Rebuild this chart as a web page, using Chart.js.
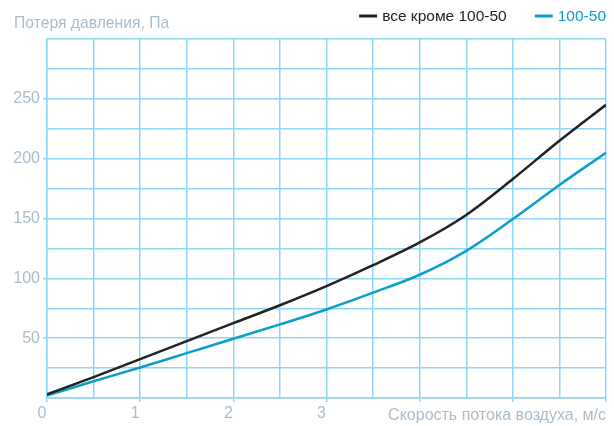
<!DOCTYPE html>
<html>
<head>
<meta charset="utf-8">
<script src="https://cdn.jsdelivr.net/npm/chart.js@4/dist/chart.umd.min.js"></script>
<style>
  html, body { margin: 0; padding: 0; background: #fff; }
  #wrap { width: 614px; height: 426px; }
</style>
</head>
<body>
<div id="wrap"><canvas id="chart"></canvas></div>
<script>
// скорость, м/с
const speeds = [0, 0.5, 1, 1.5, 2, 2.5, 3, 3.5, 4, 4.5, 5, 5.5, 6];
// потеря давления, Па
const allExcept = [3, 17.5, 32.5, 47.5, 62.5, 77.5, 93.5, 111, 130, 153, 183, 215, 245];
const model10050 = [2, 14, 25.5, 37.5, 49.5, 61.5, 74, 88, 103, 123, 149.5, 178, 205];
const seriesNames = ["все кроме 100-50", "100-50"];
const xTickLabels = { 0: "0", 1: "1", 2: "2", 3: "3" };
const yTickLabels = [50, 100, 150, 200, 250];

const gridColor = "#8fd5f6";
const textColor = "#a9bccb";
const font = "'Liberation Sans', Arial, sans-serif";

// titles and legend drawn by hand (horizontal y title, legend in text colour)
const extras = {
  id: "extras",
  afterDraw(chart) {
    const ctx = chart.ctx;
    const area = chart.chartArea;
    ctx.save();
    ctx.textBaseline = "alphabetic";
    ctx.fillStyle = textColor;
    ctx.textAlign = "left";
    ctx.font = "15.7px " + font;
    ctx.fillText("Потеря давления, Па", 14, 28);
    ctx.textAlign = "right";
    ctx.font = "16px " + font;
    ctx.fillText("Скорость потока воздуха, м/с", area.right, 420);

    // legend, right aligned
    ctx.font = "15.5px " + font;
    let x = area.right;
    const ds = chart.data.datasets;
    for (let i = ds.length - 1; i >= 0; i--) {
      const w = ctx.measureText(ds[i].label).width;
      ctx.fillStyle = ds[i].borderColor;
      ctx.textAlign = "left";
      ctx.fillText(ds[i].label, x - w, 21);
      ctx.fillRect(x - w - 23, 14.5, 18, 3);
      x = x - w - 23 - 28;
    }
    ctx.restore();
  }
};

const ctx = document.getElementById("chart").getContext("2d");
new Chart(ctx, {
  type: "line",
  data: {
    datasets: [
      {
        label: seriesNames[0],
        data: speeds.map((s, i) => ({ x: s, y: allExcept[i] })),
        borderColor: "#222222",
        borderWidth: 2.5,
        pointRadius: 0,
        cubicInterpolationMode: "monotone",
      },
      {
        label: seriesNames[1],
        data: speeds.map((s, i) => ({ x: s, y: model10050[i] })),
        borderColor: "#0a9ec8",
        borderWidth: 2.5,
        pointRadius: 0,
        cubicInterpolationMode: "monotone",
      },
    ],
  },
  options: {
    responsive: true,
    maintainAspectRatio: false,
    animation: false,
    layout: {
      padding: { top: 39, right: 8, left: 0, bottom: 0 },
    },
    plugins: {
      legend: { display: false },
      tooltip: { enabled: false },
    },
    scales: {
      x: {
        type: "linear",
        min: 0,
        max: 6,
        afterFit: (scale) => { scale.height = 28; },
        border: { color: gridColor, width: 1.5 },
        grid: {
          color: gridColor,
          lineWidth: 1.5,
          tickLength: 4,
          tickColor: (c) => (Number.isInteger(c.tick.value) ? gridColor : "rgba(0,0,0,0)"),
        },
        ticks: {
          stepSize: 0.5,
          autoSkip: false,
          maxRotation: 0,
          padding: 2,
          labelOffset: -5,
          color: textColor,
          font: { family: font, size: 16 },
          callback: (v) => (xTickLabels[v] !== undefined ? xTickLabels[v] : ""),
        },
      },
      y: {
        min: 0,
        max: 300,
        afterFit: (scale) => { scale.width = 47; },
        border: { color: gridColor, width: 1.5 },
        grid: {
          color: gridColor,
          lineWidth: 1.5,
          tickLength: 4,
          tickColor: (c) => (yTickLabels.includes(c.tick.value) ? gridColor : "rgba(0,0,0,0)"),
        },
        ticks: {
          stepSize: 25,
          padding: 3,
          color: textColor,
          font: { family: font, size: 16 },
          callback: (v) => (yTickLabels.includes(v) ? String(v) : ""),
        },
      },
    },
  },
  plugins: [extras],
});
</script>
</body>
</html>
